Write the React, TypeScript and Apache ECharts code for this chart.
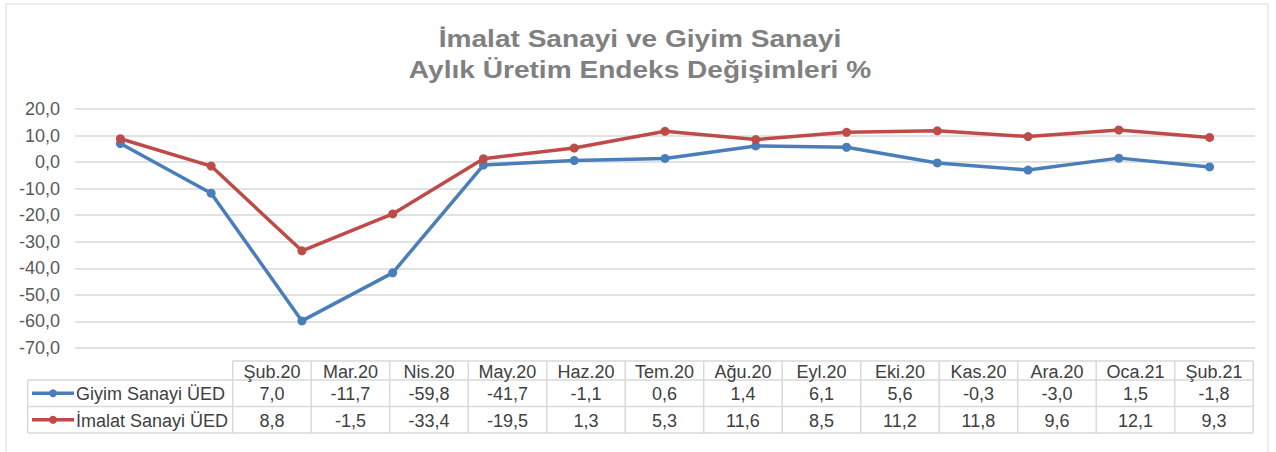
import React, { useEffect, useRef } from "react";
import * as echarts from "echarts";

const categories = ["Şub.20", "Mar.20", "Nis.20", "May.20", "Haz.20", "Tem.20", "Ağu.20", "Eyl.20", "Eki.20", "Kas.20", "Ara.20", "Oca.21", "Şub.21"];
const giyim = [7.0, -11.7, -59.8, -41.7, -1.1, 0.6, 1.4, 6.1, 5.6, -0.3, -3.0, 1.5, -1.8];
const imalat = [8.8, -1.5, -33.4, -19.5, 1.3, 5.3, 11.6, 8.5, 11.2, 11.8, 9.6, 12.1, 9.3];
const seriesNames = ["Giyim Sanayi ÜED", "İmalat Sanayi ÜED"];
const titleLines = ["İmalat Sanayi ve Giyim Sanayi", "Aylık Üretim Endeks Değişimleri %"];

const BLUE = "#4a7ebb";
const RED = "#be4b48";
const FONT = "Liberation Sans, Arial, sans-serif";

const fmt = (v: number) => v.toFixed(1).replace(".", ",");

export default function App() {
  const ref = useRef<HTMLDivElement>(null);
  useEffect(() => {
    if (!ref.current) return;
    const chart = echarts.init(ref.current, undefined, { renderer: "svg" });

    // table layout
    const tLeft = 232.7;
    const colW = 78.5;
    const legLeft = 27.7;
    const hTop = 361;
    const hBot = 380;
    const r1Bot = 406.5;
    const r2Bot = 433;
    const tRight = tLeft + colW * categories.length;
    const gridColor = "#d9d9d9";
    const textColor = "#404040";

    const els: any[] = [];
    // outer border (bottom edge falls outside the picture)
    els.push({ type: "rect", shape: { x: 6, y: 4, width: 1262, height: 460 }, style: { fill: "none", stroke: "#d9d9d9", lineWidth: 1 }, silent: true });
    // title
    titleLines.forEach((t, i) => {
      els.push({
        type: "text",
        x: 640,
        y: 38.5 + i * 31,
        scaleX: 1.17,
        style: { text: t, fill: "#808080", font: `bold 24px ${FONT}`, align: "center", verticalAlign: "middle" },
        silent: true,
      });
    });
    const hline = (x1: number, x2: number, y: number) =>
      els.push({ type: "line", shape: { x1, y1: y, x2, y2: y }, style: { stroke: gridColor, lineWidth: 1.5 }, silent: true });
    const vline = (x: number, y1: number, y2: number) =>
      els.push({ type: "line", shape: { x1: x, y1, x2: x, y2 }, style: { stroke: gridColor, lineWidth: 1.5 }, silent: true });
    hline(tLeft, tRight, hTop);
    hline(legLeft, tRight, hBot);
    hline(legLeft, tRight, r1Bot);
    hline(legLeft, tRight, r2Bot);
    vline(legLeft, hBot, r2Bot);
    for (let i = 0; i <= categories.length; i++) vline(tLeft + i * colW, hTop, r2Bot);

    const rows = [giyim, imalat];
    const rowCenters = [(hBot + r1Bot) / 2, (r1Bot + r2Bot) / 2];
    const colors = [BLUE, RED];
    categories.forEach((c, i) => {
      els.push({
        type: "text",
        x: tLeft + colW * (i + 0.5),
        y: (hTop + hBot) / 2 + 1,
        style: { text: c, fill: textColor, font: `18px ${FONT}`, align: "center", verticalAlign: "middle" },
        silent: true,
      });
    });
    rows.forEach((row, r) => {
      row.forEach((v, i) => {
        els.push({
          type: "text",
          x: tLeft + colW * (i + 0.5),
          y: rowCenters[r] + 1,
          style: { text: fmt(v), fill: textColor, font: `18px ${FONT}`, align: "center", verticalAlign: "middle" },
          silent: true,
        });
      });
      els.push({ type: "line", shape: { x1: 32, y1: rowCenters[r], x2: 74, y2: rowCenters[r] }, style: { stroke: colors[r], lineWidth: 3.5 }, silent: true });
      els.push({ type: "circle", shape: { cx: 53, cy: rowCenters[r], r: 4 }, style: { fill: colors[r] }, silent: true });
      els.push({
        type: "text",
        x: 76,
        y: rowCenters[r] + 1,
        style: { text: seriesNames[r], fill: textColor, font: `18px ${FONT}`, align: "left", verticalAlign: "middle" },
        silent: true,
      });
    });

    chart.setOption({
      animation: false,
      grid: { left: 75, right: 21, top: 109, bottom: 104, containLabel: false },
      xAxis: {
        type: "category",
        data: categories,
        boundaryGap: true,
        axisLine: { show: false },
        axisTick: { show: false },
        axisLabel: { show: false },
      },
      yAxis: {
        type: "value",
        min: -70,
        max: 20,
        interval: 10,
        axisLine: { show: false },
        axisTick: { show: false },
        splitLine: { lineStyle: { color: "#d9d9d9", width: 1.5 } },
        axisLabel: { formatter: (v: number) => fmt(v), color: "#595959", fontFamily: FONT, fontSize: 18, margin: 15 },
      },
      series: [
        {
          name: seriesNames[0],
          type: "line",
          data: giyim,
          symbol: "circle",
          symbolSize: 9,
          lineStyle: { color: BLUE, width: 3.5 },
          itemStyle: { color: BLUE },
          z: 2,
        },
        {
          name: seriesNames[1],
          type: "line",
          data: imalat,
          symbol: "circle",
          symbolSize: 9,
          lineStyle: { color: RED, width: 3.5 },
          itemStyle: { color: RED },
          z: 3,
        },
      ],
      graphic: els,
    });
    return () => chart.dispose();
  }, []);
  return <div ref={ref} style={{ position: "fixed", left: 0, top: 0, width: 1276, height: 452, background: "#fff" }} />;
}
